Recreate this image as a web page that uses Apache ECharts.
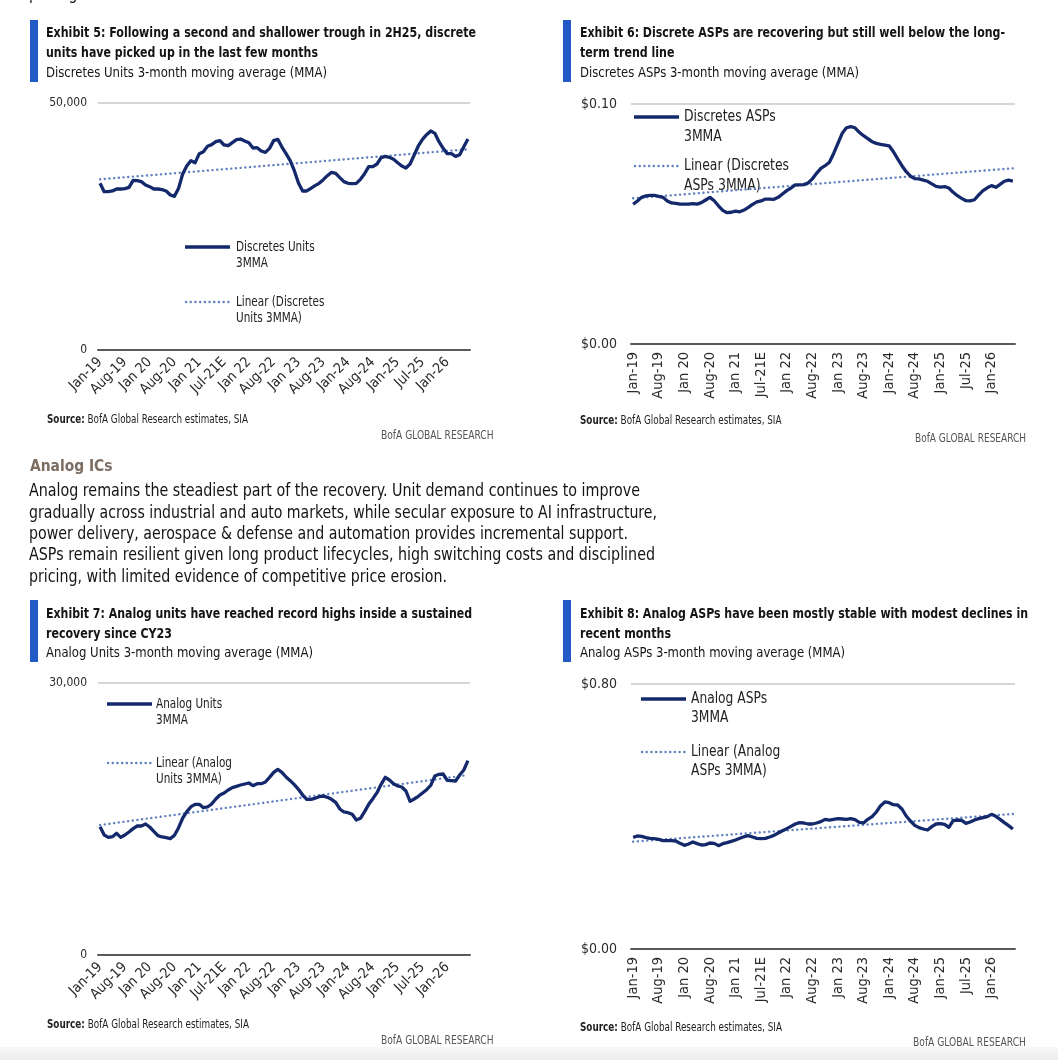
<!DOCTYPE html>
<html><head><meta charset="utf-8">
<script src="https://cdn.jsdelivr.net/npm/echarts@6/dist/echarts.min.js"></script>
<style>
html,body{margin:0;padding:0;background:#fff;width:1058px;height:1060px;overflow:hidden;position:relative}
#c{position:absolute;left:0;top:0;width:1058px;height:1060px;z-index:0}
.t{position:absolute;white-space:nowrap;transform-origin:0 50%;line-height:1.2;z-index:2;color:#141414}
.bar{position:absolute;background:#2159c6;width:8px;z-index:2}
.ti{font-weight:bold;font-size:14.5px}
.su{font-size:14.5px}
.pa{font-size:17px}
.hd{font-weight:bold;font-size:16.5px;color:#7b6d62}
.src{font-size:11.5px;color:#1e1e1e}
.bofa{font-size:11.5px;color:#555}
#strip{position:absolute;left:0;top:1047px;width:1058px;height:13px;background:linear-gradient(#f7f7f7,#ececec);z-index:1}
</style></head><body>
<div id="c"></div>
<div id="strip"></div>
<script>
// ---------- data ----------
const tickLabels = ['Jan-19','Aug-19','Jan 20','Aug-20','Jan 21','Jul-21E','Jan 22','Aug-22','Jan 23','Aug-23','Jan-24','Aug-24','Jan-25','Jul-25','Jan-26'];
const monthNames = ['Jan','Feb','Mar','Apr','May','Jun','Jul','Aug','Sep','Oct','Nov','Dec'];
const categories = [];
for (let y = 19; y <= 26; y++) for (let m = 0; m < 12; m++) if (categories.length < 90) categories.push(monthNames[m] + '-' + y);

const discreteUnits = [33740,32050,32050,32190,32590,32590,32660,32930,34350,34280,34080,33400,33060,32590,32590,32460,32190,31380,31110,32730,
 35690,37310,38330,37920,39740,40150,41230,41570,42170,42380,41500,41360,41970,42580,42710,42310,41970,40890,40960,40280,
 40010,40820,42380,42650,41090,39740,38330,36300,33810,32190,32190,32730,33270,33740,34480,35290,35970,35760,34890,34080,
 33740,33670,33740,34550,35690,37110,37110,37650,38930,39200,39000,38600,37920,37250,36840,37650,39470,41300,42650,43590,
 44330,43860,42170,40820,39740,39740,39200,39540,41160,42710];
const discreteUnitsTrend = [34550, 40630];

const discreteASPs = [0.0582,0.0596,0.0611,0.0617,0.0619,0.0619,0.0615,0.0611,0.0596,0.0588,0.0586,0.0583,0.0583,0.0583,0.0585,0.0583,0.0589,0.0600,0.0611,0.0597,
 0.0576,0.0557,0.0547,0.0549,0.0554,0.0551,0.0558,0.0569,0.0582,0.0592,0.0596,0.0604,0.0604,0.0603,0.0611,0.0625,0.0639,0.0650,0.0663,0.0663,
 0.0664,0.0671,0.0688,0.0711,0.0732,0.0743,0.0757,0.0794,0.0836,0.0878,0.0901,0.0906,0.0901,0.0882,0.0868,0.0856,0.0843,0.0836,0.0832,0.0829,
 0.0826,0.0801,0.0771,0.0743,0.0718,0.0699,0.0689,0.0688,0.0683,0.0678,0.0667,0.0657,0.0654,0.0656,0.0650,0.0632,0.0618,0.0607,0.0597,0.0596,
 0.0601,0.0621,0.0639,0.0651,0.0660,0.0653,0.0665,0.0678,0.0683,0.0679];
const discreteASPsTrend = [0.0607, 0.0732];

const analogUnits = [14155,13236,12979,13052,13420,12979,13236,13567,13935,14229,14229,14449,14119,13641,13163,13016,12942,12832,13199,14045,
 15111,15809,16359,16618,16618,16250,16324,16655,17206,17647,17868,18198,18456,18603,18750,18860,18971,18677,18897,18897,
 19081,19596,20147,20478,20147,19632,19228,18787,18272,17647,17169,17169,17280,17464,17537,17390,17169,16839,16104,15773,
 15699,15515,14890,15074,15809,16618,17243,17905,18824,19596,19302,18897,18640,18530,18089,16949,17206,17500,17868,18235,
 18713,19743,19926,19963,19265,19228,19191,19853,20404,21434];
const analogUnitsTrend = [14339, 19853];

const analogASPs = [0.3371,0.3411,0.3401,0.3361,0.3341,0.3331,0.3311,0.3270,0.3270,0.3270,0.3260,0.3190,0.3130,0.3170,0.3230,0.3180,0.3140,0.3150,0.3200,0.3190,
 0.3120,0.3180,0.3210,0.3250,0.3291,0.3341,0.3391,0.3421,0.3381,0.3341,0.3331,0.3341,0.3381,0.3431,0.3502,0.3572,0.3633,0.3703,0.3774,0.3814,
 0.3804,0.3774,0.3774,0.3804,0.3844,0.3914,0.3894,0.3914,0.3935,0.3925,0.3914,0.3935,0.3904,0.3824,0.3804,0.3914,0.3995,0.4136,0.4327,0.4438,
 0.4418,0.4357,0.4347,0.4226,0.4015,0.3864,0.3733,0.3663,0.3623,0.3592,0.3693,0.3774,0.3784,0.3764,0.3673,0.3874,0.3894,0.3884,0.3794,0.3834,
 0.3894,0.3935,0.3965,0.3995,0.4065,0.4005,0.3914,0.3814,0.3723,0.3623];
const analogASPsTrend = [0.324, 0.4076];

// ---------- fonts ----------
function hasFont(f){
  const c = document.createElement('canvas').getContext('2d');
  const s = 'abcdefghijklmnopqrstuvwxyzABCDEFGHIJ0123456789';
  c.font = '40px monospace'; const w1 = c.measureText(s).width;
  c.font = '40px serif'; const w2 = c.measureText(s).width;
  c.font = '40px "' + f + '", monospace'; const a = c.measureText(s).width;
  c.font = '40px "' + f + '", serif'; const b = c.measureText(s).width;
  return a !== w1 || b !== w2;
}
const NARROW = ['Liberation Sans Narrow','DejaVu Sans Condensed','Roboto Condensed','Open Sans','Roboto'].find(hasFont) || 'sans-serif';
const FF = '"' + NARROW + '", "Open Sans", sans-serif';
document.body.style.fontFamily = FF;

// ---------- page text ----------
const texts = [
  // [cls, left, centerY, targetWidth, html]
  ['pa', 29, -7, 104, 'pricing actions'],
  ['ti', 46, 33, 430, 'Exhibit 5: Following a second and shallower trough in 2H25, discrete'],
  ['ti', 46, 53, 272, 'units have picked up in the last few months'],
  ['su', 46, 72.5, 281, 'Discretes Units 3-month moving average (MMA)'],
  ['src', 46.5, 420, 201, '<b>Source:</b> BofA Global Research estimates, SIA'],
  ['bofa', 380.5, 436, 112.5, 'BofA GLOBAL RESEARCH'],
  ['ti', 579.5, 33, 425, 'Exhibit 6: Discrete ASPs are recovering but still well below the long-'],
  ['ti', 579.5, 53, 94.5, 'term trend line'],
  ['su', 579.5, 72.5, 279, 'Discretes ASPs 3-month moving average (MMA)'],
  ['src', 580, 421, 201.5, '<b>Source:</b> BofA Global Research estimates, SIA'],
  ['bofa', 915, 438.5, 111, 'BofA GLOBAL RESEARCH'],
  ['hd', 29.5, 466, 82.5, 'Analog ICs'],
  ['pa', 29, 490, 611, 'Analog remains the steadiest part of the recovery. Unit demand continues to improve'],
  ['pa', 29, 511.7, 628, 'gradually across industrial and auto markets, while secular exposure to AI infrastructure,'],
  ['pa', 29, 533, 599, 'power delivery, aerospace &amp; defense and automation provides incremental support.'],
  ['pa', 29, 554.5, 626, 'ASPs remain resilient given long product lifecycles, high switching costs and disciplined'],
  ['pa', 29, 576, 418, 'pricing, with limited evidence of competitive price erosion.'],
  ['ti', 46, 613.3, 426, 'Exhibit 7: Analog units have reached record highs inside a sustained'],
  ['ti', 46, 633.3, 126, 'recovery since CY23'],
  ['su', 46, 653, 267, 'Analog Units 3-month moving average (MMA)'],
  ['src', 46.5, 1025, 202, '<b>Source:</b> BofA Global Research estimates, SIA'],
  ['bofa', 380.5, 1040.5, 112.5, 'BofA GLOBAL RESEARCH'],
  ['ti', 579.5, 613.3, 448, 'Exhibit 8: Analog ASPs have been mostly stable with modest declines in'],
  ['ti', 579.5, 633.3, 91, 'recent months'],
  ['su', 579.5, 653, 265, 'Analog ASPs 3-month moving average (MMA)'],
  ['src', 580, 1027.5, 202, '<b>Source:</b> BofA Global Research estimates, SIA'],
  ['bofa', 913, 1043, 113, 'BofA GLOBAL RESEARCH']
];
const fs = {ti:14.5, su:14.5, pa:17, hd:16.5, src:11.5, bofa:11.5};
texts.forEach(([cls, x, cy, w, html]) => {
  const d = document.createElement('div');
  d.className = 't ' + cls;
  d.innerHTML = html;
  d.style.left = x + 'px';
  d.style.top = (cy - fs[cls] * 0.6) + 'px';
  document.body.appendChild(d);
  const mw = d.getBoundingClientRect().width;
  d.style.transform = 'scaleX(' + (w / mw).toFixed(4) + ')';
});
[[29.5, 20], [562.5, 20], [29.5, 600], [562.5, 600]].forEach(([x, y]) => {
  const b = document.createElement('div');
  b.className = 'bar';
  b.style.left = x + 'px'; b.style.top = y + 'px'; b.style.height = '62px';
  document.body.appendChild(b);
});

// ---------- chart ----------
const NAVY = '#14296b', DOT = '#5f80c0';
const grids = [
  {left: 98, top: 103, width: 372, height: 247},
  {left: 631, top: 104, width: 384, height: 240},
  {left: 98, top: 683, width: 372, height: 272},
  {left: 631, top: 684, width: 384, height: 265}
];
const yMax = [50000, 0.10, 30000, 0.80];
const yFmt = [
  v => v === 0 ? '0' : v.toLocaleString('en-US'),
  v => '$' + v.toFixed(2),
  v => v === 0 ? '0' : v.toLocaleString('en-US'),
  v => '$' + v.toFixed(2)
];
const rot = [45, 90, 45, 90];
const xFs = [14, 14.5, 14, 14.5];
const yFs = [12, 14, 12, 14];
const mains = [discreteUnits, discreteASPs, analogUnits, analogASPs];
const trends = [discreteUnitsTrend, discreteASPsTrend, analogUnitsTrend, analogASPsTrend];
const names = ['Discretes Units 3MMA', 'Discretes ASPs 3MMA', 'Analog Units 3MMA', 'Analog ASPs 3MMA'];

function trendData(t, n){
  const a = new Array(n).fill(null);
  a[0] = t[0]; a[n - 1] = t[1];
  return a;
}

const xAxis = [], yAxis = [], series = [];
for (let k = 0; k < 4; k++) {
  xAxis.push({
    type: 'category', gridIndex: k, data: categories, boundaryGap: true,
    axisLine: {lineStyle: {color: '#5a5a5a', width: 2}},
    axisTick: {show: false},
    axisLabel: {
      interval: 5, rotate: rot[k], fontSize: xFs[k], fontFamily: FF, color: '#2a2a2a',
      margin: rot[k] === 90 ? 8 : 10,
      formatter: (v, i) => (i % 6 === 0 && tickLabels[i / 6]) ? tickLabels[i / 6] : ''
    },
    splitLine: {show: false}
  });
  yAxis.push({
    type: 'value', gridIndex: k, min: 0, max: yMax[k], interval: yMax[k],
    axisLine: {show: false}, axisTick: {show: false},
    splitLine: {lineStyle: {color: '#c8c8c8', width: 1.5}},
    axisLabel: {formatter: yFmt[k], fontSize: yFs[k], fontFamily: FF, color: '#2a2a2a', margin: k % 2 ? 14 : 11}
  });
  series.push({
    name: names[k], type: 'line', xAxisIndex: k, yAxisIndex: k, data: mains[k],
    symbol: 'none', lineStyle: {color: NAVY, width: 3.3, join: 'round'}, z: 3, silent: true
  });
  series.push({
    name: 'Linear (' + names[k] + ')', type: 'line', xAxisIndex: k, yAxisIndex: k,
    data: trendData(trends[k], mains[k].length), connectNulls: true,
    symbol: 'none', lineStyle: {color: DOT, width: 2.4, type: [0.1, 4.6], cap: 'round'}, z: 2, silent: true
  });
}

// legends (drawn as graphic: sample line + two-line label)
const legends = [
  // [x1, x2, textX, y1, lineHeight, y2, fontSize, scaleX, label1, label2]
  [185, 230, 236, 247, 16, 302, 13.5, 0.86, 'Discretes Units\n3MMA', 'Linear (Discretes\nUnits 3MMA)'],
  [634, 679, 684, 117, 19.5, 166, 15.5, 0.89, 'Discretes ASPs\n3MMA', 'Linear (Discretes\nASPs 3MMA)'],
  [107, 152, 156, 704, 16, 763, 13.5, 0.86, 'Analog Units\n3MMA', 'Linear (Analog\nUnits 3MMA)'],
  [641, 686, 691, 699, 19, 752, 15.5, 0.88, 'Analog ASPs\n3MMA', 'Linear (Analog\nASPs 3MMA)']
];
const graphic = [];
legends.forEach(([x1, x2, tx, y1, lh, y2, f, sx, l1, l2]) => {
  graphic.push({type: 'line', shape: {x1, y1, x2, y2: y1}, style: {stroke: NAVY, lineWidth: 3.3}, silent: true});
  graphic.push({type: 'line', shape: {x1: x1 + 1, y1: y2, x2: x2, y2: y2},
    style: {stroke: DOT, lineWidth: 2.4, lineDash: [0.1, 4.6], lineCap: 'round'}, silent: true});
  graphic.push({type: 'text', x: tx, y: y1 - lh / 2, scaleX: sx, silent: true,
    style: {text: l1, fontSize: f, fontFamily: FF, fill: '#222', lineHeight: lh, verticalAlign: 'top'}});
  graphic.push({type: 'text', x: tx, y: y2 - lh / 2, scaleX: sx, silent: true,
    style: {text: l2, fontSize: f, fontFamily: FF, fill: '#222', lineHeight: lh, verticalAlign: 'top'}});
});

const chart = echarts.init(document.getElementById('c'), null, {renderer: 'canvas'});
chart.setOption({
  animation: false,
  backgroundColor: 'transparent',
  textStyle: {fontFamily: FF},
  grid: grids.map(g => Object.assign({containLabel: false}, g)),
  xAxis, yAxis, series, graphic
});
</script>
</body></html>
